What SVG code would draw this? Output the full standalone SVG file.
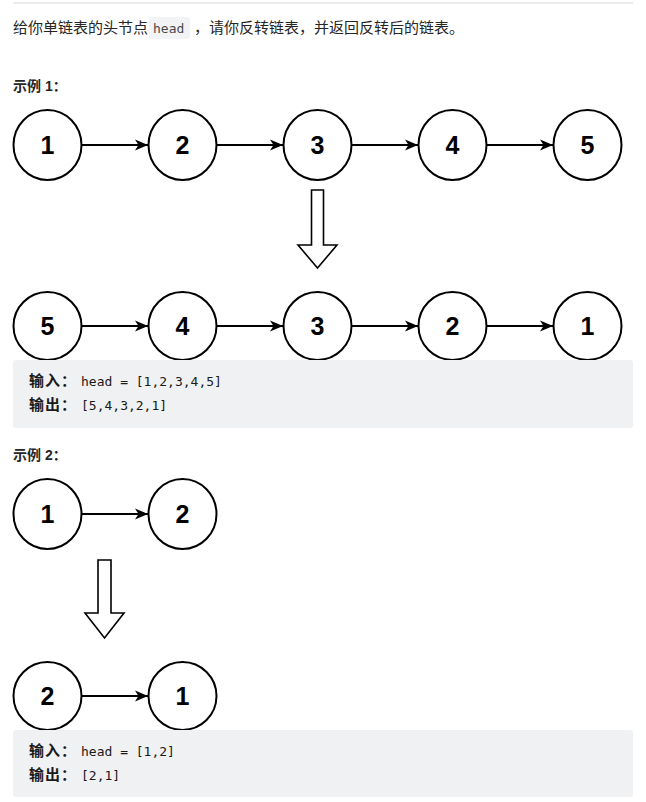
<svg xmlns="http://www.w3.org/2000/svg" width="646" height="802" viewBox="0 0 646 802">
<style>
.bg{fill:#ffffff}
.node ellipse{fill:#ffffff;stroke:#000000;stroke-width:2}
.node text{font-family:"Liberation Sans",Arial,sans-serif;font-weight:bold;font-size:25px;fill:#000000;text-anchor:middle}
.conn line{stroke:#000000;stroke-width:2}
.big{fill:#ffffff;stroke:#000000;stroke-width:1.6;stroke-linejoin:miter}
.p{font-family:"Liberation Sans","Noto Sans CJK SC",sans-serif;font-size:15px;fill:#262626}
.h{font-family:"Liberation Sans","Noto Sans CJK SC",sans-serif;font-size:14px;font-weight:bold;fill:#262626}
.lbl{font-family:"Noto Sans CJK SC",sans-serif;font-size:15px;font-weight:bold;fill:#1a1a1a;letter-spacing:1px}
.mono{font-family:"DejaVu Sans Mono","Liberation Mono",monospace;font-size:13px;fill:#1a1a1a}
.box{fill:#f0f1f3}
</style>
<defs>
<marker id="ah" markerWidth="14" markerHeight="12" refX="13" refY="6" orient="auto" markerUnits="userSpaceOnUse">
<path d="M0,0.5 L13,6 L0,11.5 L3.5,6 Z" fill="#000000"/>
</marker>
</defs>
<rect class="bg" x="0" y="0" width="646" height="802"/>
<line x1="13" y1="3" x2="633" y2="3" stroke="#e6e6e6" stroke-width="1.5"/>
<text class="p" x="13" y="33">给你单链表的头节点</text>
<rect x="149" y="17" width="41" height="22" rx="3" fill="#f2f3f5"/>
<text class="mono" x="153" y="33" style="fill:#4a4a4a">head</text>
<text class="p" x="194" y="33">，请你反转链表，并返回反转后的链表。</text>
<text class="h" x="13" y="91">示例 1：</text>

<g class="conn" id="connectors">
<line x1="82" y1="145" x2="148" y2="145" marker-end="url(#ah)"/>
<line x1="217" y1="145" x2="283" y2="145" marker-end="url(#ah)"/>
<line x1="352" y1="145" x2="418" y2="145" marker-end="url(#ah)"/>
<line x1="487" y1="145" x2="553" y2="145" marker-end="url(#ah)"/>
<line x1="82" y1="326" x2="148" y2="326" marker-end="url(#ah)"/>
<line x1="217" y1="326" x2="283" y2="326" marker-end="url(#ah)"/>
<line x1="352" y1="326" x2="418" y2="326" marker-end="url(#ah)"/>
<line x1="487" y1="326" x2="553" y2="326" marker-end="url(#ah)"/>
<line x1="82" y1="514" x2="148" y2="514" marker-end="url(#ah)"/>
<line x1="82" y1="696" x2="148" y2="696" marker-end="url(#ah)"/>
</g>

<g class="node" id="a1"><ellipse cx="47.5" cy="145" rx="34" ry="35"/><text x="47.5" y="154">1</text></g>
<g class="node" id="a2"><ellipse cx="182.5" cy="145" rx="34" ry="35"/><text x="182.5" y="154">2</text></g>
<g class="node" id="a3"><ellipse cx="317.5" cy="145" rx="34" ry="35"/><text x="317.5" y="154">3</text></g>
<g class="node" id="a4"><ellipse cx="452.5" cy="145" rx="34" ry="35"/><text x="452.5" y="154">4</text></g>
<g class="node" id="a5"><ellipse cx="587.5" cy="145" rx="34" ry="35"/><text x="587.5" y="154">5</text></g>

<g id="bigarrow1"><path class="big" d="M311.5,190 L323.5,190 L323.5,245 L337,245 L317.5,268 L298,245 L311.5,245 Z"/></g>

<g class="node" id="b5"><ellipse cx="47.5" cy="326" rx="34" ry="34"/><text x="47.5" y="335">5</text></g>
<g class="node" id="b4"><ellipse cx="182.5" cy="326" rx="34" ry="34"/><text x="182.5" y="335">4</text></g>
<g class="node" id="b3"><ellipse cx="317.5" cy="326" rx="34" ry="34"/><text x="317.5" y="335">3</text></g>
<g class="node" id="b2"><ellipse cx="452.5" cy="326" rx="34" ry="34"/><text x="452.5" y="335">2</text></g>
<g class="node" id="b1"><ellipse cx="587.5" cy="326" rx="34" ry="34"/><text x="587.5" y="335">1</text></g>

<rect class="box" x="13" y="360" width="620" height="68" rx="3"/>
<text class="lbl" x="29" y="386">输入：</text>
<text class="mono" x="81" y="386">head = [1,2,3,4,5]</text>
<text class="lbl" x="29" y="410">输出：</text>
<text class="mono" x="81" y="410">[5,4,3,2,1]</text>

<text class="h" x="13" y="460">示例 2：</text>

<g class="node" id="c1"><ellipse cx="47.5" cy="514" rx="34" ry="35"/><text x="47.5" y="523">1</text></g>
<g class="node" id="c2"><ellipse cx="182.5" cy="514" rx="34" ry="35"/><text x="182.5" y="523">2</text></g>

<g id="bigarrow2"><path class="big" d="M98,560 L111,560 L111,613 L124,613 L104.5,638 L85,613 L98,613 Z"/></g>

<g class="node" id="d2"><ellipse cx="47.5" cy="696" rx="34" ry="34"/><text x="47.5" y="705">2</text></g>
<g class="node" id="d1"><ellipse cx="182.5" cy="696" rx="34" ry="34"/><text x="182.5" y="705">1</text></g>

<rect class="box" x="13" y="730" width="620" height="67" rx="3"/>
<text class="lbl" x="29" y="756">输入：</text>
<text class="mono" x="81" y="756">head = [1,2]</text>
<text class="lbl" x="29" y="780">输出：</text>
<text class="mono" x="81" y="780">[2,1]</text>
</svg>
